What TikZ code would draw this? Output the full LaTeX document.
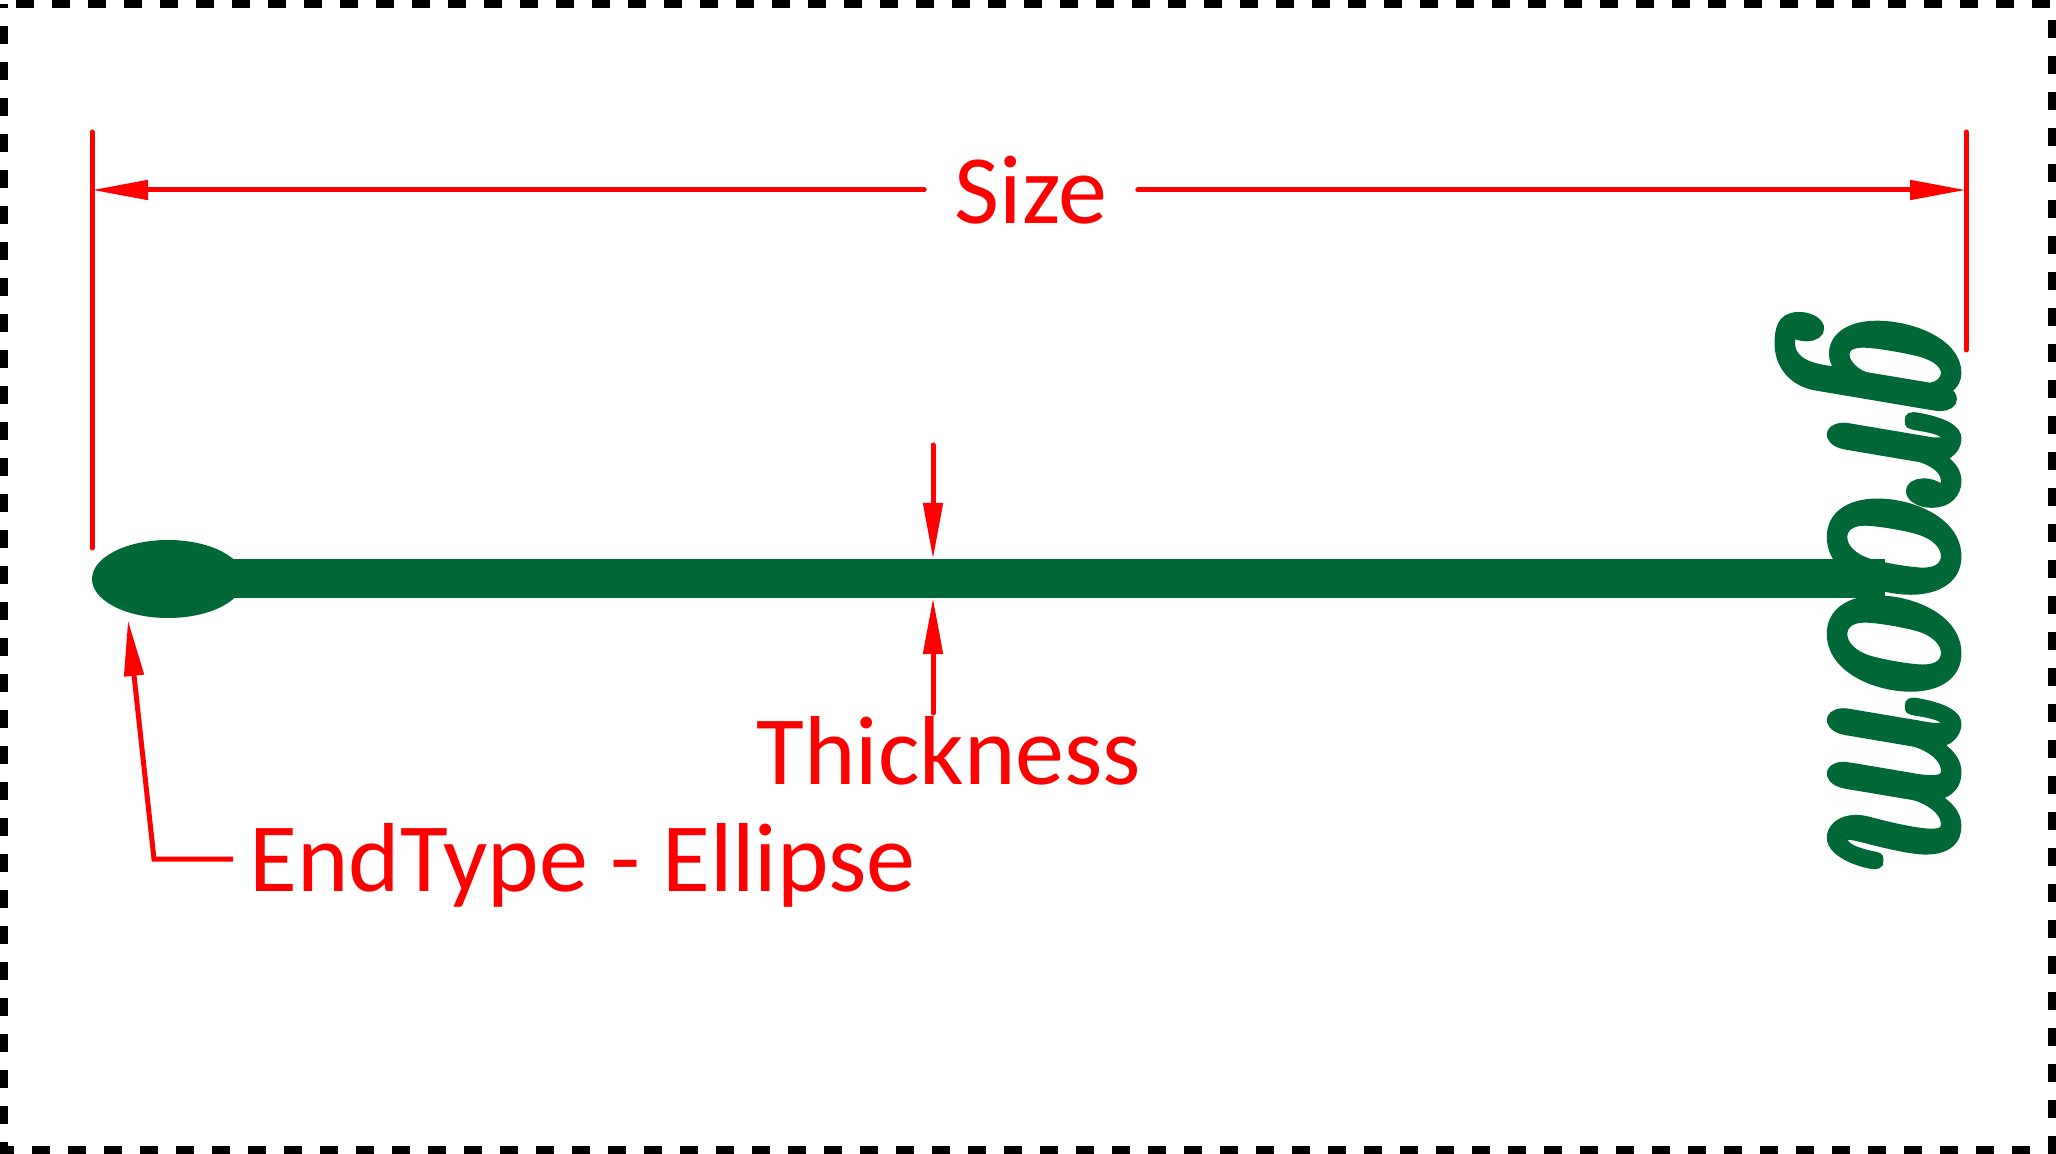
\documentclass[tikz,border=0pt]{standalone}
\usepackage{fontspec}
\setmainfont{Carlito}
\newfontfamily\groomfont{lmroman10-bolditalic.otf}[FakeBold=4]
\usetikzlibrary{arrows.meta,shapes.geometric}
\definecolor{bargreen}{RGB}{0,104,55}
\definecolor{dimred}{RGB}{255,0,0}
\tikzset{
  dimline/.style={draw=dimred,line width=2.5pt,line cap=round},
  dimarrow/.style={dimline,-{Triangle[length=28pt,width=9.5pt]}},
  lbl/.style={text=dimred,font=\fontsize{49}{58}\selectfont,inner sep=0pt},
}
\begin{document}
\begin{tikzpicture}[x=0.5pt,y=-0.5pt]
\useasboundingbox (0,0) rectangle (2056,1154);
% border
\draw[line width=4pt,dash pattern=on 9pt off 9pt,dash phase=-11pt] (4,4) rectangle (2052,1150);
% green bar and ellipse end
\node[ellipse,fill=bargreen,minimum width=76pt,minimum height=39pt,inner sep=0pt] (endE) at (168,579) {};
\coordinate (barR) at (1885,578.5);
\fill[bargreen] (168,559) rectangle (barR |- 0,598);
\node[text=bargreen,inner sep=0pt,rotate=-90] (groom) at (1868,582)
  {\resizebox*{277pt}{88pt}{\groomfont groom}};
% extension lines
\coordinate (LT) at (92,132); \coordinate (LB) at (92,548);
\coordinate (RT) at (1966,132); \coordinate (RB) at (1966,350);
\draw[dimline] (LT) -- (LB);
\draw[dimline] (RT) -- (RB);
% size dimension
\node[lbl,inner xsep=15pt] (size) at (1031,190) {Size};
\coordinate (SL) at (92,190); \coordinate (SR) at (1966,190);
\draw[dimarrow] (size.west) -- (SL);
\draw[dimarrow] (size.east) -- (SR);
% thickness
\coordinate (TT) at (933,445); \coordinate (TTt) at (933,559);
\coordinate (TB) at (933,713); \coordinate (TBt) at (933,598);
\draw[dimarrow] (TT) -- (TTt);
\draw[dimarrow] (TB) -- (TBt);
\node[lbl,anchor=base] (thick) at (949,784) {Thickness};
% end type
\node[lbl,anchor=base west] (endtype) at (249,891) {EndType - Ellipse};
\coordinate (EA) at (233,859); \coordinate (EB) at (154,859); \coordinate (ET) at (128,620);
\draw[dimarrow,line cap=butt] (EA) -- (EB) -- (ET);
\end{tikzpicture}
\end{document}
